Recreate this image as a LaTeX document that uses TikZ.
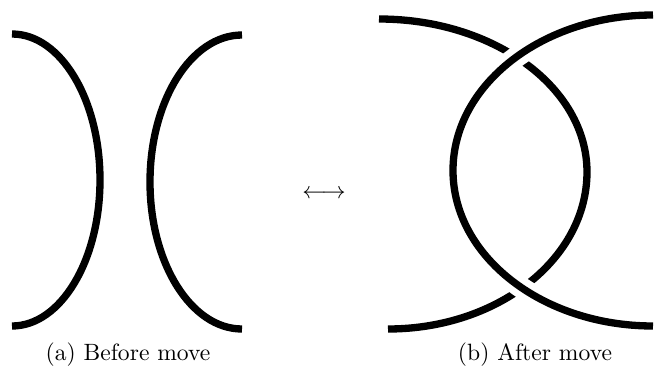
\documentclass[tikz,border=0pt]{standalone}
\usetikzlibrary{positioning}
\tikzset{
  strand/.style={line width=3.1pt},
  overstrand/.style={strand,preaction={draw,white,line width=9pt}}
}
\begin{document}
\begin{tikzpicture}[x=0.424pt,y=0.424pt]
  \useasboundingbox (0,0) rectangle (654,376);
  % Before the move
  \draw[strand] (12,342) arc[start angle=90,end angle=-90,x radius=88,y radius=146];
  \draw[strand] (242,341) arc[start angle=90,end angle=270,x radius=92,y radius=147];
  % After the move
  \draw[strand] (379,357) arc[start angle=90,end angle=0,x radius=208,y radius=153]
    arc[start angle=0,end angle=-90,x radius=199,y radius=157];
  \draw[overstrand] (653,361) arc[start angle=90,end angle=270,x radius=200,y radius=155.5];
  % Captions
  \node (capa) at (128,21) {(a) Before move};
  \node (capb) at (535,21) {(b) After move};
  \node (move) at (324,182) {$\longleftrightarrow$};
\end{tikzpicture}
\end{document}
